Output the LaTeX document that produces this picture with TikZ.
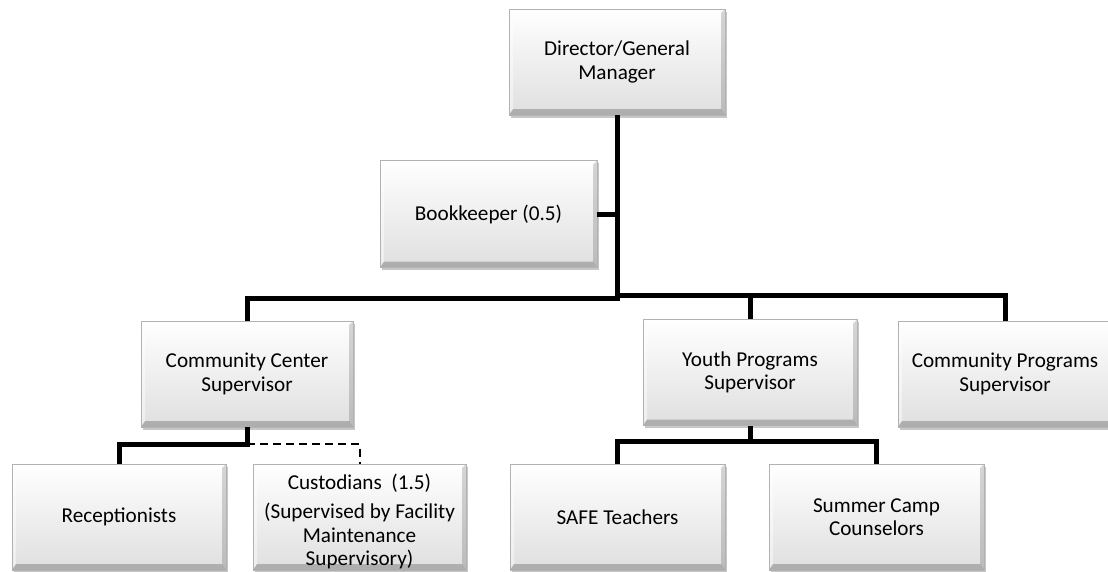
\documentclass[tikz,border=0pt]{standalone}
\usepackage{fontspec}
\setmainfont{Carlito}
\usetikzlibrary{shadows,calc}

\newcommand{\cardfont}{\fontsize{21.2}{23.5}\selectfont}

\tikzset{
  card/.style={
    draw=gray!60, line width=0.8pt,
    minimum width=215pt, minimum height=106pt,
    inner sep=2pt, align=center, font=\cardfont,
    top color=white, bottom color=gray!25,
    drop shadow={shadow xshift=1.5pt, shadow yshift=-2.5pt, fill=black, opacity=0.22},
    path picture={
      \path let \p1=(path picture bounding box.north west),
                \p2=(path picture bounding box.south east) in
        [fill=white, fill opacity=0.7]
          (\x1,\y1) -- (\x2,\y1) -- (\x2-4pt,\y1-4pt) -- (\x1+4pt,\y1-4pt) -- cycle
        [fill=white, fill opacity=0.45]
          (\x1,\y1) -- (\x1+4pt,\y1-4pt) -- (\x1+4pt,\y2+6pt) -- (\x1,\y2) -- cycle;
      \path let \p1=(path picture bounding box.north west),
                \p2=(path picture bounding box.south east) in
        [fill=black, fill opacity=0.16]
          (\x2,\y1) -- (\x2,\y2) -- (\x2-4pt,\y2+6pt) -- (\x2-4pt,\y1-4pt) -- cycle;
      \path let \p1=(path picture bounding box.north west),
                \p2=(path picture bounding box.south east) in
        [fill=black, fill opacity=0.22]
          (\x1,\y2) -- (\x2,\y2) -- (\x2-4pt,\y2+6pt) -- (\x1+4pt,\y2+6pt) -- cycle;
    }
  },
  conn/.style={line width=5pt, black},
  dashline/.style={line width=2pt, black, dash pattern=on 8pt off 5pt}
}

\begin{document}
\begin{tikzpicture}[x=1pt, y=-1pt]
  \useasboundingbox (0,0) rectangle (1108,571);

  % management
  \node[card, minimum width=216pt] (dir) at (617,62) {Director/General\\Manager};
  \node[card, minimum width=217pt, minimum height=107pt] (book) at (488.5,214) {Bookkeeper (0.5)};

  % supervisors
  \node[card, minimum width=212pt] (cc) at (247,374) {Community Center\\Supervisor};
  \node[card, minimum width=214pt] (youth) at (750,372.5) {Youth Programs\\Supervisor};
  \node[card, minimum width=214pt] (cp) at (1005,374) {Community Programs\\Supervisor};

  % staff
  \node[card, minimum width=214pt] (rec) at (119,517) {Receptionists};
  \node[card, minimum width=213pt] (cust) at (359.5,517)
    {\rule[-40pt]{0pt}{80pt}\smash{\raisebox{-11pt}{\begin{tabular}{@{}c@{}}Custodians~~(1.5)\\[6pt](Supervised by Facility\\Maintenance\\Supervisory)\end{tabular}}}};
  \node[card] (safe) at (617.5,517) {SAFE Teachers};
  \node[card] (camp) at (876.5,517) {Summer Camp\\Counselors};

  % reporting lines
  \coordinate (busL) at (617,298);
  \coordinate (busR) at (617,295);
  \draw[conn] (dir.south) -- (busL) -| (cc.north);
  \draw[conn] (busR) -| (cp.north);
  \draw[conn] (busR -| youth.north) -- (youth.north);
  \draw[conn] (book.east) -- (book.east -| dir.south);

  \draw[conn] (cc.south) -- ++(0,17) coordinate (ccj) -| (rec.north);
  \draw[dashline] (ccj) -| (cust.north);

  \draw[conn] (youth.south) -- ++(0,16) coordinate (yj);
  \draw[conn] (safe.north) |- (yj) -| (camp.north);
\end{tikzpicture}
\end{document}
